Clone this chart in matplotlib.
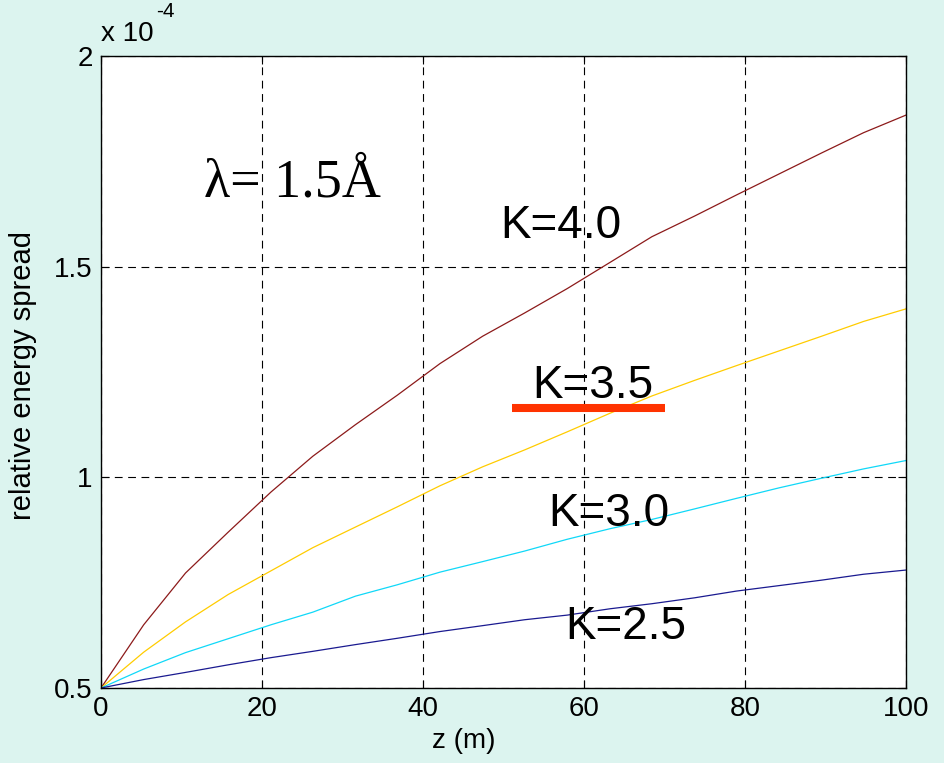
import matplotlib
matplotlib.use("Agg")
import matplotlib.pyplot as plt
from matplotlib import font_manager

# Distance along the undulator (m)
z = [0, 5.3, 10.5, 15.8, 21.1, 26.3, 31.6, 36.8, 42.1, 47.4,
     52.6, 57.9, 63.2, 68.4, 73.7, 78.9, 84.2, 89.5, 94.7, 100]

# Relative energy spread in units of 1e-4, one list per K value
spread_k40 = [0.5, 0.65, 0.773, 0.87, 0.965, 1.05, 1.125, 1.195, 1.27, 1.335,
              1.39, 1.448, 1.51, 1.571, 1.62, 1.67, 1.72, 1.77, 1.818, 1.86]
spread_k35 = [0.5, 0.585, 0.657, 0.722, 0.778, 0.833, 0.882, 0.93, 0.98, 1.025,
              1.065, 1.108, 1.152, 1.193, 1.23, 1.265, 1.30, 1.335, 1.37, 1.40]
spread_k30 = [0.5, 0.545, 0.584, 0.617, 0.65, 0.68, 0.718, 0.745, 0.775, 0.80,
              0.825, 0.853, 0.878, 0.90, 0.925, 0.95, 0.975, 0.998, 1.02, 1.04]
spread_k25 = [0.5, 0.52, 0.537, 0.555, 0.572, 0.587, 0.603, 0.618, 0.634, 0.648,
              0.662, 0.673, 0.688, 0.70, 0.714, 0.73, 0.743, 0.756, 0.77, 0.78]

x_ticks = [0, 20, 40, 60, 80, 100]
y_ticks = [0.5, 1, 1.5, 2]
y_tick_labels = ["0.5", "1", "1.5", "2"]

bg = "#dcf4ef"

# tick labels in the reference look like a narrow sans
names = {f.name for f in font_manager.fontManager.ttflist}
tick_font = "Liberation Sans Narrow" if "Liberation Sans Narrow" in names else "Liberation Sans"
tick_size = 22 if tick_font == "Liberation Sans Narrow" else 20

plt.rcParams['font.family'] = ['Liberation Sans', 'DejaVu Sans']

fig = plt.figure(figsize=(9.44, 7.63), dpi=100, facecolor=bg)
ax = fig.add_axes([0.107, 0.0983, 0.853, 0.8283])

ax.plot(z, spread_k40, color="#8c1a1a", lw=0.9)
ax.plot(z, spread_k35, color="#ffcc00", lw=0.9)
ax.plot(z, spread_k30, color="#10d8f8", lw=0.9)
ax.plot(z, spread_k25, color="#1a1a90", lw=0.9)

ax.set_xlim(0, 100)
ax.set_ylim(0.5, 2)
ax.set_xticks(x_ticks)
ax.set_yticks(y_ticks)
ax.set_yticklabels(y_tick_labels)
ax.grid(True, color="black", lw=0.8, linestyle=(0, (7, 5)))
ax.tick_params(direction="in", length=6, width=0.8, top=True, right=True,
               labelsize=tick_size, pad=6)
for lab in ax.get_xticklabels() + ax.get_yticklabels():
    lab.set_fontfamily(tick_font)
for sp in ax.spines.values():
    sp.set_linewidth(1.0)

ax.set_xlabel("z (m)", fontsize=tick_size, fontfamily=tick_font)
ax.xaxis.set_label_coords(0.451, -0.064)
ax.set_ylabel("relative energy spread", fontsize=21)
ax.yaxis.set_label_coords(-0.08, 0.495)

# exponent label above the axes
ax.text(0.0, 1.015, "x 10", transform=ax.transAxes, fontsize=tick_size,
        fontfamily=tick_font, ha="left", va="bottom")
ax.text(0.068, 1.055, "-4", transform=ax.transAxes, fontsize=tick_size - 5,
        fontfamily=tick_font, ha="left", va="bottom")

# annotations
ax.text(0.128, 0.778, "λ= 1.5Å", transform=ax.transAxes, fontsize=39,
        fontfamily=["Liberation Serif", "DejaVu Serif"], ha="left", va="baseline")
ax.text(0.496, 0.712, "K=4.0", transform=ax.transAxes, fontsize=33, ha="left", va="baseline")
ax.text(0.535, 0.459, "K=3.5", transform=ax.transAxes, fontsize=33, ha="left", va="baseline")
ax.text(0.556, 0.256, "K=3.0", transform=ax.transAxes, fontsize=33, ha="left", va="baseline")
ax.text(0.577, 0.078, "K=2.5", transform=ax.transAxes, fontsize=33, ha="left", va="baseline")
# red underline under K=3.5
ax.plot([0.5106, 0.7006], [0.443, 0.443], transform=ax.transAxes,
        color="#ff3300", lw=5.8, solid_capstyle="butt")

fig.savefig("out.png", dpi=100, facecolor=bg)
